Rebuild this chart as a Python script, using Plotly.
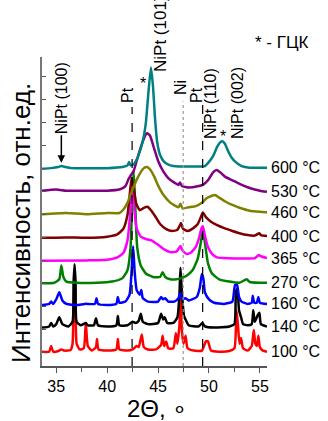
import plotly.graph_objects as go

# ---------------- data ----------------
temps = ["100 °C", "140 °C", "160 °C", "270 °C", "365 °C", "400 °C", "460 °C", "530 °C", "600 °C"]
colors = ["#FF0000", "#000000", "#0000FF", "#008000", "#FF00FF", "#800000", "#808000", "#800080", "#008080"]
offsets = [0.57, 1.62, 2.6, 3.57, 4.57, 5.57, 6.6, 7.57, 8.57]

x_100 = [33.6, 34.3, 34.5, 34.7, 35.2, 35.5, 35.8, 36.4, 36.6, 36.7, 36.8, 36.9, 37.0, 37.3, 37.7, 37.9, 38.1, 38.5,
         38.9, 39.0, 39.15, 40.0, 40.9, 41.05, 41.2, 42.0, 42.5, 42.9, 43.1, 43.4, 43.6, 44.0, 44.8, 45.3, 45.45, 45.6,
         45.8, 46.0, 46.5, 46.75, 46.9, 47.1, 47.2, 47.35, 47.5, 47.7, 47.9, 48.5, 49.3, 49.7, 49.9, 50.2, 51.0, 52.0,
         52.5, 52.7, 52.85, 53.0, 53.15, 53.35, 53.8, 54.2, 54.4, 54.55, 54.7, 54.85, 55.0, 55.3, 55.7]
y_100 = [0.05, 0.05, 0.3, 0.05, 0.08, 0.15, 0.1, 0.12, 0.4, 2.0, 3.3, 2.0, 0.4, 0.15, 0.2, 1.3, 0.3, 0.1,
         0.25, 0.6, 0.15, 0.1, 0.15, 0.6, 0.15, 0.1, 0.15, 0.3, 0.25, 0.8, 0.25, 0.15, 0.15, 0.35, 0.75, 0.3,
         0.5, 0.2, 0.2, 0.85, 0.4, 1.2, 2.4, 0.9, 0.4, 0.75, 0.2, 0.1, 0.1, 0.5, 0.5, 0.1, 0.05, 0.08,
         0.2, 1.85, 1.2, 0.4, 0.65, 0.2, 0.1, 0.3, 1.0, 0.4, 0.3, 0.75, 0.25, 0.1, 0.05]

x_140 = [33.6, 34.3, 34.5, 34.7, 35.0, 35.3, 35.6, 36.2, 36.6, 36.7, 36.8, 36.9, 37.0, 37.4, 37.9, 38.1, 38.7, 38.9,
         39.1, 40.0, 40.9, 41.05, 41.2, 42.0, 42.5, 42.8, 43.1, 43.3, 43.5, 44.0, 45.0, 45.3, 45.5, 45.65, 45.9, 46.5,
         46.9, 47.1, 47.2, 47.35, 47.55, 47.7, 48.0, 49.0, 49.35, 49.6, 50.5, 52.0, 52.5, 52.65, 52.8, 52.95, 53.15,
         53.35, 53.8, 54.2, 54.35, 54.5, 54.8, 54.95, 55.1, 55.7]
y_140 = [0.05, 0.1, 0.25, 0.1, 0.2, 0.5, 0.2, 0.1, 0.3, 2.0, 2.8, 2.0, 0.3, 0.15, 0.25, 0.15, 0.15, 0.45,
         0.15, 0.1, 0.15, 0.55, 0.15, 0.15, 0.3, 0.25, 0.35, 0.65, 0.3, 0.2, 0.25, 0.65, 0.4, 0.5, 0.25, 0.25,
         0.5, 1.5, 2.65, 1.5, 0.55, 0.4, 0.15, 0.1, 0.25, 0.1, 0.05, 0.1, 0.2, 1.6, 1.75, 0.8, 0.5,
         0.2, 0.15, 0.2, 0.8, 0.3, 0.6, 0.7, 0.2, 0.1]

x_160 = [33.6, 34.3, 34.5, 34.7, 35.0, 35.3, 35.6, 36.0, 37.0, 37.8, 38.8, 38.95, 39.1, 40.0, 40.9, 41.05, 41.2, 41.8,
         42.2, 42.4, 42.55, 42.7, 42.9, 43.2, 43.35, 43.5, 44.0, 45.0, 45.3, 45.5, 45.7, 46.0, 46.6, 47.0, 47.2, 47.4,
         47.7, 48.0, 48.8, 49.1, 49.3, 49.45, 49.6, 50.0, 50.5, 51.5, 52.3, 52.55, 52.75, 52.95, 53.2, 53.8, 54.2,
         54.3, 54.45, 54.7, 54.85, 55.0, 55.7]
y_160 = [0.05, 0.1, 0.2, 0.1, 0.3, 0.6, 0.25, 0.1, 0.05, 0.1, 0.1, 0.35, 0.1, 0.05, 0.1, 0.4, 0.15, 0.2,
         0.5, 1.5, 2.6, 1.5, 0.7, 0.5, 0.7, 0.35, 0.2, 0.2, 0.4, 0.3, 0.35, 0.2, 0.2, 0.35, 0.55, 0.3,
         0.35, 0.25, 0.4, 0.8, 1.4, 1.2, 0.6, 0.3, 0.15, 0.1, 0.2, 0.9, 0.95, 0.4, 0.2, 0.1, 0.15,
         0.45, 0.15, 0.15, 0.4, 0.15, 0.1]

x_270 = [33.6, 34.8, 35.3, 35.5, 35.7, 36.0, 37.0, 39.0, 40.5, 41.5, 42.0, 42.3, 42.45, 42.6, 42.75, 42.95, 43.3, 43.8,
         44.5, 45.2, 45.45, 45.7, 46.2, 46.8, 47.3, 47.8, 48.4, 48.9, 49.2, 49.4, 49.6, 49.9, 50.3, 51.0, 52.0, 53.0,
         53.7, 54.0, 55.0, 55.7]
y_270 = [0.03, 0.05, 0.2, 0.8, 0.3, 0.1, 0.05, 0.05, 0.1, 0.25, 0.6, 1.6, 3.5, 4.9, 3.5, 1.6, 0.8, 0.45,
         0.3, 0.3, 0.5, 0.3, 0.2, 0.2, 0.25, 0.35, 0.6, 1.1, 1.8, 2.35, 1.8, 0.9, 0.45, 0.2, 0.1, 0.05,
         0.2, 0.08, 0.05, 0.05]

x_365 = [33.6, 38.0, 40.0, 41.0, 41.6, 42.0, 42.25, 42.45, 42.65, 42.9, 43.3, 43.8, 44.3, 45.0, 45.6, 46.2, 46.8, 47.05,
         47.2, 47.4, 47.8, 48.2, 48.7, 49.0, 49.25, 49.4, 49.6, 49.9, 50.3, 50.8, 51.5, 52.5, 53.5, 54.5, 54.9, 55.1,
         55.7]
y_365 = [0.0, 0.02, 0.05, 0.15, 0.35, 0.9, 2.0, 3.3, 2.3, 1.4, 1.05, 0.95, 0.9, 0.7, 0.5, 0.38, 0.4, 0.55,
         0.65, 0.45, 0.3, 0.35, 0.6, 0.95, 1.4, 1.5, 1.1, 0.6, 0.3, 0.15, 0.12, 0.1, 0.1, 0.12, 0.25, 0.2,
         0.12]

x_400 = [33.6, 36.0, 38.0, 40.0, 41.0, 41.6, 42.0, 42.2, 42.4, 42.6, 42.85, 43.2, 43.6, 43.95, 44.3, 44.7, 45.2, 45.8,
         46.4, 46.9, 47.1, 47.25, 47.45, 47.9, 48.4, 48.9, 49.2, 49.4, 49.7, 50.2, 50.8, 51.5, 52.3, 53.0, 53.8, 54.5,
         54.95, 55.1, 55.7]
y_400 = [0.0, 0.02, 0.0, 0.05, 0.15, 0.4, 1.0, 1.8, 2.6, 2.2, 1.5, 1.2, 1.3, 1.35, 1.2, 0.95, 0.6, 0.38,
         0.3, 0.35, 0.5, 0.65, 0.4, 0.3, 0.4, 0.6, 0.9, 1.1, 0.9, 0.7, 0.55, 0.42, 0.3, 0.2, 0.12, 0.1,
         0.2, 0.12, 0.08]

x_460 = [33.6, 36.0, 38.0, 40.0, 41.2, 41.6, 42.0, 42.3, 42.7, 43.2, 43.6, 43.9, 44.2, 44.6, 45.0, 45.5, 46.2, 47.0,
         47.2, 47.4, 48.0, 48.7, 49.3, 49.8, 50.3, 50.6, 51.0, 51.6, 52.3, 53.0, 54.0, 55.0, 55.7]
y_460 = [0.0, 0.05, 0.0, 0.05, 0.05, 0.2, 0.5, 0.85, 1.3, 1.75, 2.0, 2.05, 1.95, 1.65, 1.25, 0.85, 0.5, 0.3,
         0.45, 0.25, 0.3, 0.35, 0.5, 0.7, 0.8, 0.83, 0.72, 0.55, 0.4, 0.28, 0.15, 0.1, 0.08]

x_530 = [33.6, 35.0, 36.0, 38.0, 40.0, 41.2, 41.8, 42.1, 42.3, 42.6, 43.0, 43.5, 43.9, 44.2, 44.6, 45.0, 45.5, 46.0,
         46.6, 47.0, 47.15, 47.35, 47.8, 48.4, 49.0, 49.4, 49.9, 50.4, 50.75, 51.1, 51.6, 52.3, 53.0, 53.8, 54.5,
         55.0, 55.7]
y_530 = [0.05, 0.1, 0.05, 0.05, 0.05, 0.1, 0.25, 0.55, 0.7, 0.9, 1.5, 2.2, 2.55, 2.45, 1.9, 1.35, 0.9, 0.6,
         0.4, 0.3, 0.4, 0.25, 0.2, 0.2, 0.25, 0.3, 0.5, 0.85, 0.95, 0.85, 0.65, 0.5, 0.35, 0.2, 0.1,
         0.05, 0.0]

x_600 = [33.6, 34.5, 35.2, 35.5, 35.9, 36.5, 38.0, 40.0, 41.5, 42.0, 42.15, 42.3, 42.6, 42.9, 43.2, 43.5, 43.8, 44.05,
         44.3, 44.5, 44.7, 44.9, 45.2, 45.6, 46.2, 47.0, 48.0, 49.0, 49.6, 50.0, 50.4, 50.8, 51.1, 51.3, 51.55, 51.9,
         52.2, 52.6, 53.2, 54.0, 55.0, 55.7]
y_600 = [0.0, 0.03, 0.08, 0.12, 0.08, 0.03, 0.02, 0.03, 0.08, 0.15, 0.3, 0.15, 0.2, 0.4, 0.75, 1.2, 2.0, 3.3,
         4.4, 3.6, 2.2, 1.2, 0.6, 0.3, 0.15, 0.1, 0.1, 0.1, 0.12, 0.3, 0.55, 0.95, 1.15, 1.2, 1.1, 0.75,
         0.5, 0.3, 0.12, 0.05, 0.05, 0.05]

series_x = [x_100, x_140, x_160, x_270, x_365, x_400, x_460, x_530, x_600]
series_y = [y_100, y_140, y_160, y_270, y_365, y_400, y_460, y_530, y_600]

ref_lines = [42.45, 47.47, 49.38]   # Pt, Ni, Pt reference positions (2Θ)
x_ticks = [35, 40, 45, 50, 55]

# ---------------- figure ----------------
FONT = "Liberation Sans, Arial, sans-serif"
W, H = 328, 421
L, R, T, B = 42, 61, 57, 55
PW, PH = W - L - R, H - T - B


def px(xp):   # pixel x -> paper x
    return (xp - L) / PW


def py(yp):   # pixel y -> paper y
    return (H - B - yp) / PH


fig = go.Figure()

for xs, ys, off, col, name in zip(series_x, series_y, offsets, colors, temps):
    fig.add_trace(go.Scatter(x=xs, y=[v + off for v in ys], mode="lines",
                             line=dict(color=col, width=2.5, shape="spline", smoothing=0.5),
                             name=name, showlegend=False, hoverinfo="skip"))
    fig.add_annotation(x=1.0, xref="paper", xshift=2, y=ys[-1] + off, yref="y",
                       text=name, showarrow=False, xanchor="left", yanchor="middle",
                       font=dict(size=16, color="black", family=FONT))

ymax = 13.43
# reference lines
fig.add_shape(type="line", x0=ref_lines[0], x1=ref_lines[0], y0=0, y1=11.26, xref="x", yref="y",
              line=dict(color="black", width=1.2, dash="dash"))
fig.add_shape(type="line", x0=ref_lines[1], x1=ref_lines[1], y0=0, y1=11.5, xref="x", yref="y",
              line=dict(color="#999999", width=1.2, dash="dot"))
fig.add_shape(type="line", x0=ref_lines[2], x1=ref_lines[2], y0=0, y1=11.4, xref="x", yref="y",
              line=dict(color="black", width=1.2, dash="dash"))


def ann(xpix, ypix, text, angle=-90, size=16):
    fig.add_annotation(x=px(xpix), y=py(ypix), xref="paper", yref="paper", text=text, textangle=angle,
                       showarrow=False, xanchor="center", yanchor="middle",
                       font=dict(size=size, color="black", family=FONT))


# peak labels
fig.add_annotation(x=35.5, y=8.83, xref="x", yref="y", text="NiPt (100)", textangle=-90,
                   showarrow=True, arrowhead=2, arrowsize=1, arrowwidth=1.5, arrowcolor="black",
                   ax=0, ay=-65, font=dict(size=16, color="black", family=FONT))
ann(127, 95, "Pt")
ann(143, 83, "*", angle=0)
ann(160, 34, "NiPt (101)", size=17)
ann(180, 88, "Ni")
ann(196, 95, "Pt")
ann(210, 104, "NiPt (110)")
ann(223, 136, "*", angle=0)
ann(237, 103, "NiPt (002)")
ann(282, 42, "* - ГЦК", angle=0, size=17)

# axis titles
ann(157, 408, "2Θ, ∘", angle=0, size=24)
ann(21, 223, "Интенсивность, отн.ед.", angle=-90, size=26)

fig.update_layout(
    width=W, height=H,
    margin=dict(l=L, r=R, t=T, b=B),
    paper_bgcolor="white", plot_bgcolor="white",
    font=dict(family=FONT, size=16, color="black"),
    showlegend=False,
    xaxis=dict(range=[33.6, 55.7], tickvals=x_ticks, ticks="outside", ticklen=5, tickwidth=1,
               tickcolor="#555555", showline=True, linecolor="#555555", linewidth=1.5,
               showgrid=False, zeroline=False, mirror=False,
               minor=dict(ticks="outside", dtick=2.5, tick0=0, ticklen=4, tickcolor="#555555"),
               tickfont=dict(size=16, color="black", family=FONT)),
    yaxis=dict(range=[0, ymax], ticks="inside", ticklen=4, tickcolor="#555555", tick0=0.57, dtick=1,
               showticklabels=False, showline=True, linecolor="#777777", linewidth=1.5,
               showgrid=False, zeroline=False),
)

fig.write_html("out.html", config={"displayModeBar": False},
               post_script="document.body.style.margin='0';document.body.style.overflow='hidden';")
